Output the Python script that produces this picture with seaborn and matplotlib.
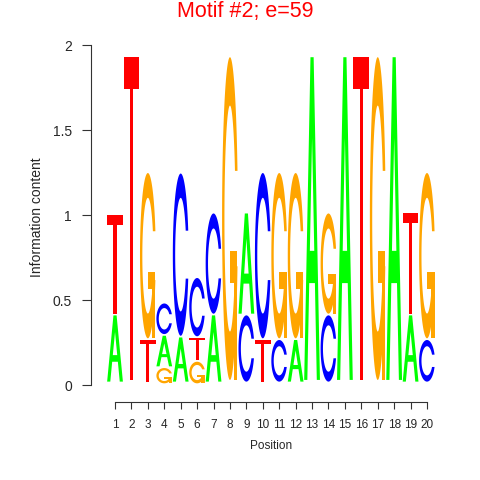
import numpy as np
import pandas as pd
import matplotlib
matplotlib.use("Agg")
import matplotlib.pyplot as plt
import seaborn as sns

# --- data: drawn letter heights per position (bits, already scaled) ---
positions = list(range(1, 21))
A_ht = [0.39, 0, 0, 0.18, 0.26, 0, 0.39, 0, 0.59, 0, 0, 0.245, 1.90, 0, 1.90, 0, 0, 1.90, 0.39, 0]
C_ht = [0, 0, 0, 0.18, 0.955, 0.343, 0.59, 0, 0.39, 0.973, 0.245, 0, 0, 0.39, 0, 0, 0, 0, 0, 0.245]
G_ht = [0, 0, 0.973, 0.09, 0, 0.127, 0, 1.90, 0, 0, 0.973, 0.973, 0, 0.59, 0, 0, 1.90, 0, 0, 0.973]
T_ht = [0.58, 1.90, 0.245, 0, 0, 0.13, 0, 0, 0, 0.245, 0, 0, 0, 0, 0, 1.90, 0, 0, 0.59, 0]
y_ticks = [0, 0.5, 1, 1.5, 2]
y_ticklabels = ["0", "0.5", "1", "1.5", "2"]
title = "Motif #2; e=59"

colors = {"A": "#00FF00", "C": "#0000FF", "G": "#FFA500", "T": "#FF0000"}
df = pd.DataFrame({"A": A_ht, "C": C_ht, "G": G_ht, "T": T_ht}, index=positions)


# --- letter outlines in a unit box (seqLogo style) ---
def ring_outline():
    a1 = np.linspace(0.3 + np.pi / 2, np.pi, 100)
    a2 = np.linspace(np.pi, 1.5 * np.pi, 100)
    xl1, yl1 = 0.5 + 0.5 * np.sin(a1), 0.5 + 0.5 * np.cos(a1)
    xl2, yl2 = 0.5 + 0.5 * np.sin(a2), 0.5 + 0.5 * np.cos(a2)
    xl, yl = np.r_[xl1, xl2], np.r_[yl1, yl2]
    x = np.r_[xl, xl[::-1]]
    y = np.r_[yl, 1 - yl[::-1]]
    xi1, yi1 = 0.5 + 0.35 * np.sin(a1), 0.5 + 0.35 * np.cos(a1)
    keep = yi1 <= yl1.max()
    xi1, yi1 = xi1[keep], yi1[keep].copy()
    yi1[0] = yl1.max()
    xi2, yi2 = 0.5 + 0.35 * np.sin(a2), 0.5 + 0.35 * np.cos(a2)
    xi, yi = np.r_[xi1, xi2], np.r_[yi1, yi2]
    x1 = np.r_[xi, xi[::-1]]
    y1 = np.r_[yi, 1 - yi[::-1]]
    return np.r_[x, x1[::-1]], np.r_[y, y1[::-1]], xl1.max()


def letter_polys(ch):
    if ch == "A":
        return [(np.array([0, 4, 6, 10, 8, 6.8, 3.2, 2, 0]) / 10,
                 np.array([0, 10, 10, 0, 0, 3, 3, 0, 0]) / 10, colors["A"]),
                (np.array([3.6, 5, 6.4, 3.6]) / 10,
                 np.array([4, 7.5, 4, 4]) / 10, "white")]
    if ch == "T":
        return [(np.array([0, 10, 10, 6, 6, 4, 4, 0]) / 10,
                 np.array([10, 10, 9, 9, 0, 0, 9, 9]) / 10, colors["T"])]
    x, y, r1 = ring_outline()
    if ch == "C":
        return [(x, y, colors["C"])]
    h1 = 0.4
    xa = np.array([r1, 0.5, 0.5, r1 - 0.2, r1 - 0.2, r1, r1])
    ya = np.array([h1, h1, h1 - 0.1, h1 - 0.1, 0, 0, h1])
    return [(x[::-1], y[::-1], colors["G"]), (xa, ya, colors["G"])]


sns.set_style("white")
plt.rcParams["font.family"] = ["Liberation Sans", "DejaVu Sans"]

fig = plt.figure(figsize=(4.8, 4.8), dpi=100)
ax = fig.add_axes([0.189, 0.1625, 0.7348, 0.7431])

wt = 0.96
for pos, row in df.iterrows():
    # smallest on the bottom, 0.01 gap after every letter
    y0 = 0.0
    for ch in sorted(row.index, key=lambda c: row[c]):
        ht = row[ch]
        if ht > 0:
            for px, py, col in letter_polys(ch):
                ax.fill(pos - wt / 2 + wt * px, y0 + ht * py, color=col, lw=0)
        y0 += ht + 0.01

ax.set_xlim(-0.48, 21)
ax.set_ylim(-0.1, 2.0)
ax.set_xticks(positions)
ax.set_xticklabels([str(p) for p in positions], fontsize=8.5)
ax.set_yticks(y_ticks)
ax.set_yticklabels(y_ticklabels, fontsize=10)

for s in ["top", "right"]:
    ax.spines[s].set_visible(False)
ax.spines["left"].set_bounds(0, 2)
ax.spines["bottom"].set_bounds(1, 20)
for s in ["left", "bottom"]:
    ax.spines[s].set_color("#333333")
    ax.spines[s].set_linewidth(0.8)
ax.tick_params(axis="x", direction="out", length=5, width=0.8, color="#333333", pad=7, bottom=True)
ax.tick_params(axis="y", direction="out", length=6.5, width=0.8, color="#333333", pad=7, left=True)
ax.grid(False)

fig.text(245.5 / 480, 1 - 11 / 480, title, color="red", fontsize=15.5, ha="center", va="center")
fig.text(37 / 480, 1 - 217 / 480, "Information content", fontsize=10, rotation=90, ha="center", va="center")
fig.text(270.8 / 480, 1 - 446 / 480, "Position", fontsize=8.5, ha="center", va="center")

fig.savefig("out.png", dpi=100)
